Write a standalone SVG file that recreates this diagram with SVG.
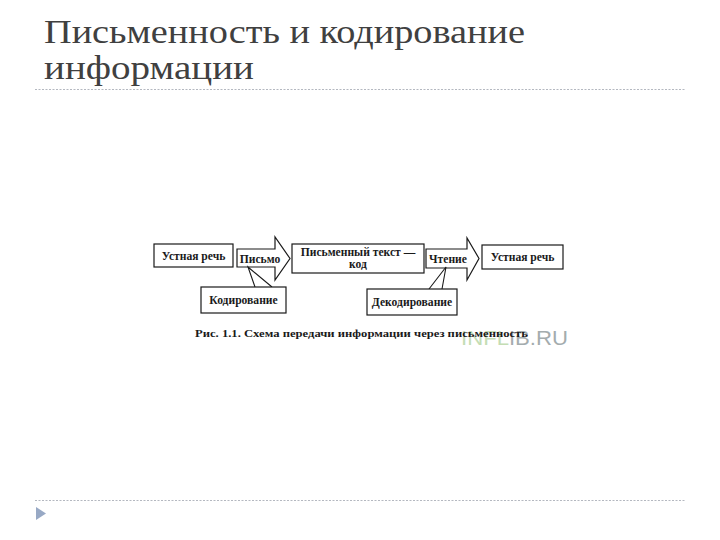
<svg xmlns="http://www.w3.org/2000/svg" width="720" height="540" viewBox="0 0 720 540">
<style>
.title{font-family:"Liberation Serif","DejaVu Serif",serif;font-size:34px;fill:#404040}
.box{fill:#fff;stroke:#1a1a1a;stroke-width:1.2}
.lbl{font-family:"Liberation Serif","DejaVu Serif",serif;font-size:11.6px;font-weight:bold;fill:#1a1a1a;text-anchor:middle}
.sep{stroke:#b4b8c0;stroke-width:1.2;stroke-dasharray:2 1.5;fill:none}
.cap{font-family:"Liberation Serif","DejaVu Serif",serif;font-size:10px;font-weight:bold;fill:#1a1a1a}
</style>
<rect width="720" height="540" fill="#fff"/>
<text class="title" x="44" y="42.5" textLength="481" lengthAdjust="spacingAndGlyphs">Письменность и кодирование</text>
<text class="title" x="44" y="78.5" textLength="210" lengthAdjust="spacingAndGlyphs">информации</text>
<line class="sep" x1="35" y1="89.5" x2="685" y2="89.5"/>
<line class="sep" x1="35" y1="500.5" x2="685" y2="500.5"/>
<polygon points="36,507 46,513.5 36,520" fill="#98a9c5"/>

<g id="connectors">
<g id="arrow-pismo">
<polygon class="box" points="237,249 275,249 275,237 290,258.5 275,280 275,267 237,267"/>
<text class="lbl" x="260" y="262.5">Письмо</text>
</g>
<g id="arrow-chtenie">
<polygon class="box" points="426,249 467,249 467,238 479,258.5 467,280 467,268 426,268"/>
<text class="lbl" x="448" y="262.5">Чтение</text>
</g>
<path d="M255,287 L248,267 L272,287" fill="none" stroke="#1a1a1a" stroke-width="1.1"/>
<path d="M429,289 L446,267 L442,289" fill="none" stroke="#1a1a1a" stroke-width="1.1"/>
</g>

<g id="node-speech1">
<rect class="box" x="154" y="244" width="79" height="23"/>
<text class="lbl" x="193.5" y="259.5">Устная речь</text>
</g>
<g id="node-text">
<rect class="box" x="292" y="244" width="132" height="29"/>
<text class="lbl" x="358" y="256">Письменный текст —</text>
<text class="lbl" x="358" y="268">код</text>
</g>
<g id="node-speech2">
<rect class="box" x="482" y="245" width="81" height="24"/>
<text class="lbl" x="522.5" y="260.5">Устная речь</text>
</g>
<g id="node-coding">
<rect class="box" x="201" y="287" width="85" height="26"/>
<text class="lbl" x="243.5" y="304">Кодирование</text>
</g>
<g id="node-decoding">
<rect class="box" x="367" y="289" width="90" height="26"/>
<text class="lbl" x="412" y="306">Декодирование</text>
</g>

<text x="461" y="345" font-family="Liberation Sans, Arial, sans-serif" font-size="21" textLength="107" lengthAdjust="spacingAndGlyphs"><tspan fill="#c4ddb4">INFL</tspan><tspan fill="#a4acae">IB.RU</tspan></text>
<text class="cap" x="195" y="337" textLength="333" lengthAdjust="spacingAndGlyphs">Рис. 1.1. Схема передачи информации через письменность</text>
</svg>
